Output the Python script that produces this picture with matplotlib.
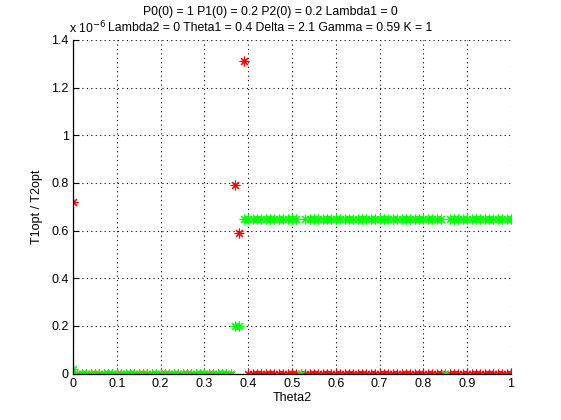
import numpy as np
import matplotlib
matplotlib.use("Agg")
import matplotlib.pyplot as plt

# ==========================================================
# DATA  (values in units of 1e-6)
# ==========================================================
theta2 = np.linspace(0, 1, 101)

t_red = [
    0.72, 0, 0, 0, 0, 0, 0, 0, 0, 0,
    0, 0, 0, 0, 0, 0, 0, 0, 0, 0,
    0, 0, 0, 0, 0, 0, 0, 0, 0, 0,
    0, 0, 0, 0, 0, 0, 0, 0.79, 0.59, 1.31,
    0, 0, 0, 0, 0, 0, 0, 0, 0, 0,
    0, 0, 0, 0, 0, 0, 0, 0, 0, 0,
    0, 0, 0, 0, 0, 0, 0, 0, 0, 0,
    0, 0, 0, 0, 0, 0, 0, 0, 0, 0,
    0, 0, 0, 0, 0, 0, 0, 0, 0, 0,
    0, 0, 0, 0, 0, 0, 0, 0, 0, 0,
    0,
]

t_green = [
    0.02, 0, 0, 0, 0, 0, 0, 0, 0, 0,
    0, 0, 0, 0, 0, 0, 0, 0, 0, 0,
    0, 0, 0, 0, 0, 0, 0, 0, 0, 0,
    0, 0, 0, 0, 0, 0, 0, 0.2, 0.2, 0.65,
    0.65, 0.65, 0.65, 0.65, 0.65, 0.65, 0.65, 0.65, 0.65, 0.65,
    0.65, 0.65, 0, 0.65, 0.65, 0.65, 0.65, 0.65, 0.65, 0.65,
    0.65, 0.65, 0.65, 0.65, 0.65, 0.65, 0.65, 0.65, 0.65, 0.65,
    0.65, 0.65, 0.65, 0.65, 0.65, 0.65, 0.65, 0.65, 0.65, 0.65,
    0.65, 0.65, 0.65, 0.65, 0.65, 0, 0.65, 0.65, 0.65, 0.65,
    0.65, 0.65, 0.65, 0.65, 0.65, 0.65, 0.65, 0.65, 0.65, 0.65,
    0.65,
]

xticks = [0, 0.1, 0.2, 0.3, 0.4, 0.5, 0.6, 0.7, 0.8, 0.9, 1]
xticklabels = ["0", "0.1", "0.2", "0.3", "0.4", "0.5", "0.6", "0.7", "0.8", "0.9", "1"]
yticks = [0, 0.2, 0.4, 0.6, 0.8, 1.0, 1.2, 1.4]
yticklabels = ["0", "0.2", "0.4", "0.6", "0.8", "1", "1.2", "1.4"]

title_lines = ["P0(0) = 1 P1(0) = 0.2 P2(0) = 0.2 Lambda1 = 0",
               "Lambda2 = 0 Theta1 = 0.4 Delta = 2.1 Gamma = 0.59 K = 1"]

# ==========================================================
# PLOT
# ==========================================================
plt.rcParams['font.family'] = ['Liberation Sans', 'DejaVu Sans']
FS = 9
FS_TITLE = 8.8

fig = plt.figure(figsize=(5.61, 4.2), dpi=100)
ax = fig.add_axes([73/561, 1 - 373.5/420, 438/561, 333.5/420])

asterisk = (8, 2, 0)
ax.plot(theta2, t_red, linestyle='none', marker=asterisk,
        markersize=7, markeredgewidth=0.8, color=(1, 0, 0))
ax.plot(theta2, t_green, linestyle='none', marker=asterisk,
        markersize=7, markeredgewidth=0.8, color=(0, 1, 0))

ax.set_xlim(0, 1)
ax.set_ylim(0, 1.4)
ax.set_xticks(xticks)
ax.set_xticklabels(xticklabels, fontsize=FS)
ax.set_yticks(yticks)
ax.set_yticklabels(yticklabels, fontsize=FS)
ax.tick_params(direction='in', length=4, width=0.8, pad=3,
               top=False, right=False)

ax.grid(True, color='black', linestyle=(0, (1, 3)), linewidth=0.8)
ax.spines['top'].set_visible(False)
ax.spines['right'].set_visible(False)
for s in ('left', 'bottom'):
    ax.spines[s].set_linewidth(0.9)
ax.set_axisbelow(True)

ax.set_xlabel("Theta2", fontsize=FS, labelpad=2)
ax.set_ylabel("T1opt / T2opt", fontsize=FS, labelpad=6)

fig.text(270/561, 1 - 12/420, title_lines[0], ha='center', va='center', fontsize=FS_TITLE)
fig.text(270/561, 1 - 28/420, title_lines[1], ha='center', va='center', fontsize=FS_TITLE)
fig.text(69/561, 1 - 33/420, r"x 10$^{-6}$", ha='left', va='baseline', fontsize=FS_TITLE)

fig.savefig("out.png", dpi=100, facecolor='white')
